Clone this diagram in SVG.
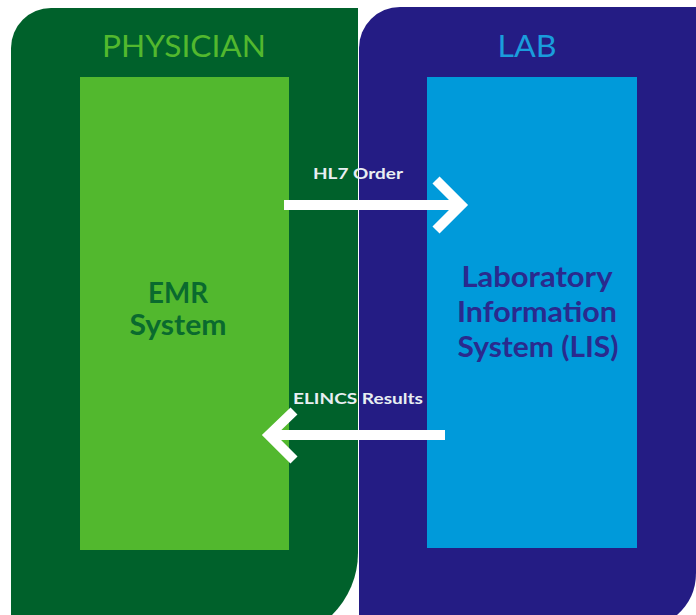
<svg xmlns="http://www.w3.org/2000/svg" width="696" height="615" viewBox="0 0 696 615">
  <defs>
    <style>
      .hdr { font-family: Lato, "Open Sans", "Liberation Sans", sans-serif; font-size: 30px; text-anchor: middle; }
      .body { font-family: Lato, "Open Sans", "Liberation Sans", sans-serif; font-weight: bold; font-size: 29px; text-anchor: middle; }
      .lbl { font-family: Lato, "Open Sans", "Liberation Sans", sans-serif; font-weight: bold; font-size: 16px; fill: #e8eef2; text-anchor: middle; }
      .arrow { fill: none; stroke: #ffffff; stroke-width: 10; stroke-linecap: butt; stroke-linejoin: miter; }
    </style>
  </defs>
  <rect width="696" height="615" fill="#ffffff"/>
  <g id="physician">
    <path d="M11,615 L11,48 A40,40 0 0 1 51,8 L358,8 L358,553 A87,87 0 0 1 332,615 Z" fill="#00612b"/>
    <text class="hdr" x="184" y="57" fill="#52b82e" textLength="164" lengthAdjust="spacingAndGlyphs">PHYSICIAN</text>
  </g>
  <g id="lab">
    <path d="M359,615 L359,48 A41,41 0 0 1 400,7 L696,7 L696,573 A56,56 0 0 1 677,615 Z" fill="#241c84"/>
    <text class="hdr" x="527" y="57" fill="#1a9ddc" textLength="59" lengthAdjust="spacingAndGlyphs">LAB</text>
  </g>
  <g id="emr">
    <rect x="80" y="77" width="209" height="473" fill="#52b82e"/>
    <text class="body" fill="#0a6a2e" x="178" y="303" textLength="60" lengthAdjust="spacingAndGlyphs">EMR</text>
    <text class="body" fill="#0a6a2e" x="178" y="335" textLength="97" lengthAdjust="spacingAndGlyphs">System</text>
  </g>
  <g id="lis">
    <rect x="427" y="77" width="210" height="471" fill="#009ada"/>
    <text class="body" fill="#2a2a8e" x="537" y="287" textLength="151" lengthAdjust="spacingAndGlyphs">Laboratory</text>
    <text class="body" fill="#2a2a8e" x="537" y="322" textLength="160" lengthAdjust="spacingAndGlyphs">Information</text>
    <text class="body" fill="#2a2a8e" x="538" y="357" textLength="161" lengthAdjust="spacingAndGlyphs">System (LIS)</text>
  </g>
  <g id="connectors">
    <g id="hl7-order">
      <line class="arrow" x1="284" y1="205" x2="462" y2="205"/>
      <polyline class="arrow" points="436,180 461,205 436,230"/>
      <text class="lbl" x="358" y="179" textLength="90" lengthAdjust="spacingAndGlyphs">HL7 Order</text>
    </g>
    <g id="elincs-results">
      <line class="arrow" x1="445" y1="435" x2="268" y2="435"/>
      <polyline class="arrow" points="294,411 269,435 294,460"/>
      <text class="lbl" x="358" y="404" textLength="130" lengthAdjust="spacingAndGlyphs">ELINCS Results</text>
    </g>
  </g>
</svg>
